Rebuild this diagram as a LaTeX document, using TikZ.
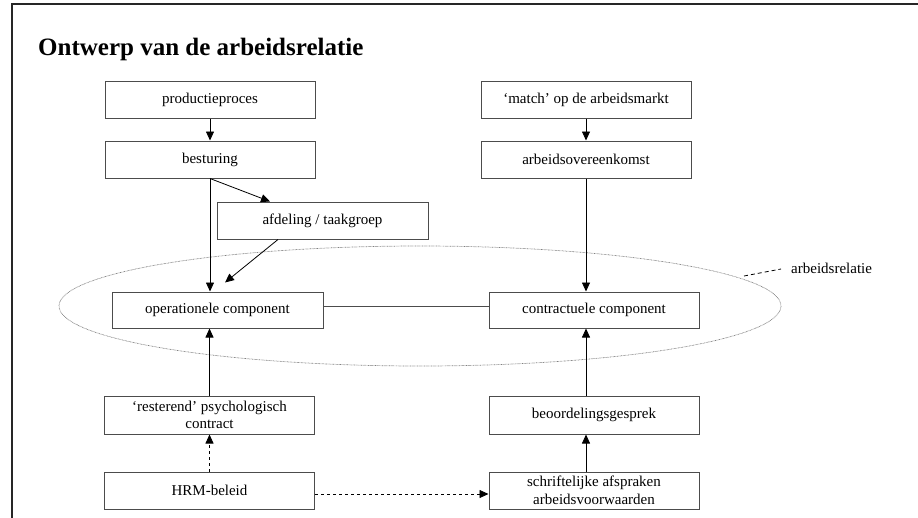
\documentclass[tikz,border=0pt]{standalone}
\usepackage{fontspec}
\setmainfont{Liberation Serif}
\usetikzlibrary{arrows.meta}
\begin{document}
\begin{tikzpicture}[x=1pt,y=-1pt,
  box/.style={draw=black!70,line width=1pt,rectangle,minimum width=210pt,minimum height=37pt,inner sep=1pt,align=center,font=\fontsize{15}{17.5}\selectfont},
  conn/.style={line width=0.8pt,-{Triangle[length=9pt,width=8pt]}},
  plain/.style={line width=0.8pt,draw=black!70}]
\useasboundingbox (0,0) rectangle (918,517);
\draw[line width=1.3pt,black!85] (12,520) -- (12,4) -- (920,4);
\node[anchor=base west,inner sep=0,font=\fontsize{25}{28}\selectfont\bfseries] (title) at (38,55) {Ontwerp van de arbeidsrelatie};
% ellipse
\draw[gray,line width=0.7pt,dash pattern=on 0.7pt off 0.7pt] (420,306) ellipse [x radius=361, y radius=60];
% left column
\node[box] (prod) at (210,99.5) {productieproces};
\node[box] (best) at (210,159.5) {besturing};
\node[box,minimum width=211pt] (afd) at (322.5,220.5) {afdeling / taakgroep};
\node[box,minimum width=211pt,minimum height=36pt] (oper) at (217.5,310) {operationele component};
\node[box,minimum height=38pt] (rest) at (209.5,415) {‘resterend’ psychologisch\\contract};
\node[box] (hrm) at (209.5,490.5) {HRM-beleid};
% right column
\node[box] (match) at (586,99.5) {‘match’ op de arbeidsmarkt};
\node[box] (arbov) at (586,159.5) {arbeidsovereenkomst};
\node[box,minimum height=36pt] (contr) at (594,310) {contractuele component};
\node[box,minimum height=38pt] (beoord) at (594,415) {beoordelingsgesprek};
\node[box] (schr) at (594,490.5) {schriftelijke afspraken\\arbeidsvoorwaarden};
% label
\node[anchor=west,inner sep=0,font=\fontsize{15}{17.5}\selectfont] (rel) at (791,268) {arbeidsrelatie};
\coordinate (lead) at (744,276);
\draw[line width=0.8pt,dash pattern=on 4pt off 3pt] (lead) -- ([xshift=-10pt,yshift=-1pt]rel.west);
% connectors
\draw[conn] (prod.south) -- (best.north);
\draw[conn] (best.south) -- ([xshift=-52.5pt]afd.north);
\draw[conn] (best.south) -- (best.south |- oper.north);
\draw[conn] ([xshift=-44.5pt]afd.south) -- ([xshift=7.5pt,yshift=9pt]oper.north);
\draw[plain] ([yshift=4pt]oper.east) -- ([yshift=4pt]contr.west);
\draw[conn] (rest.north) -- (rest.north |- oper.south);
\draw[conn,dashed] (hrm.north) -- (rest.south);
\draw[conn] (match.south) -- (arbov.north);
\draw[conn] (arbov.south) -- (arbov.south |- contr.north);
\draw[conn] ([xshift=-8pt]beoord.north) -- ([xshift=-8pt]beoord.north |- contr.south);
\draw[conn] ([xshift=-8pt]schr.north) -- ([xshift=-8pt]beoord.south);
\draw[conn,dashed] ([yshift=-3.5pt]hrm.east) -- ([yshift=-3.5pt]schr.west);
\end{tikzpicture}
\end{document}
